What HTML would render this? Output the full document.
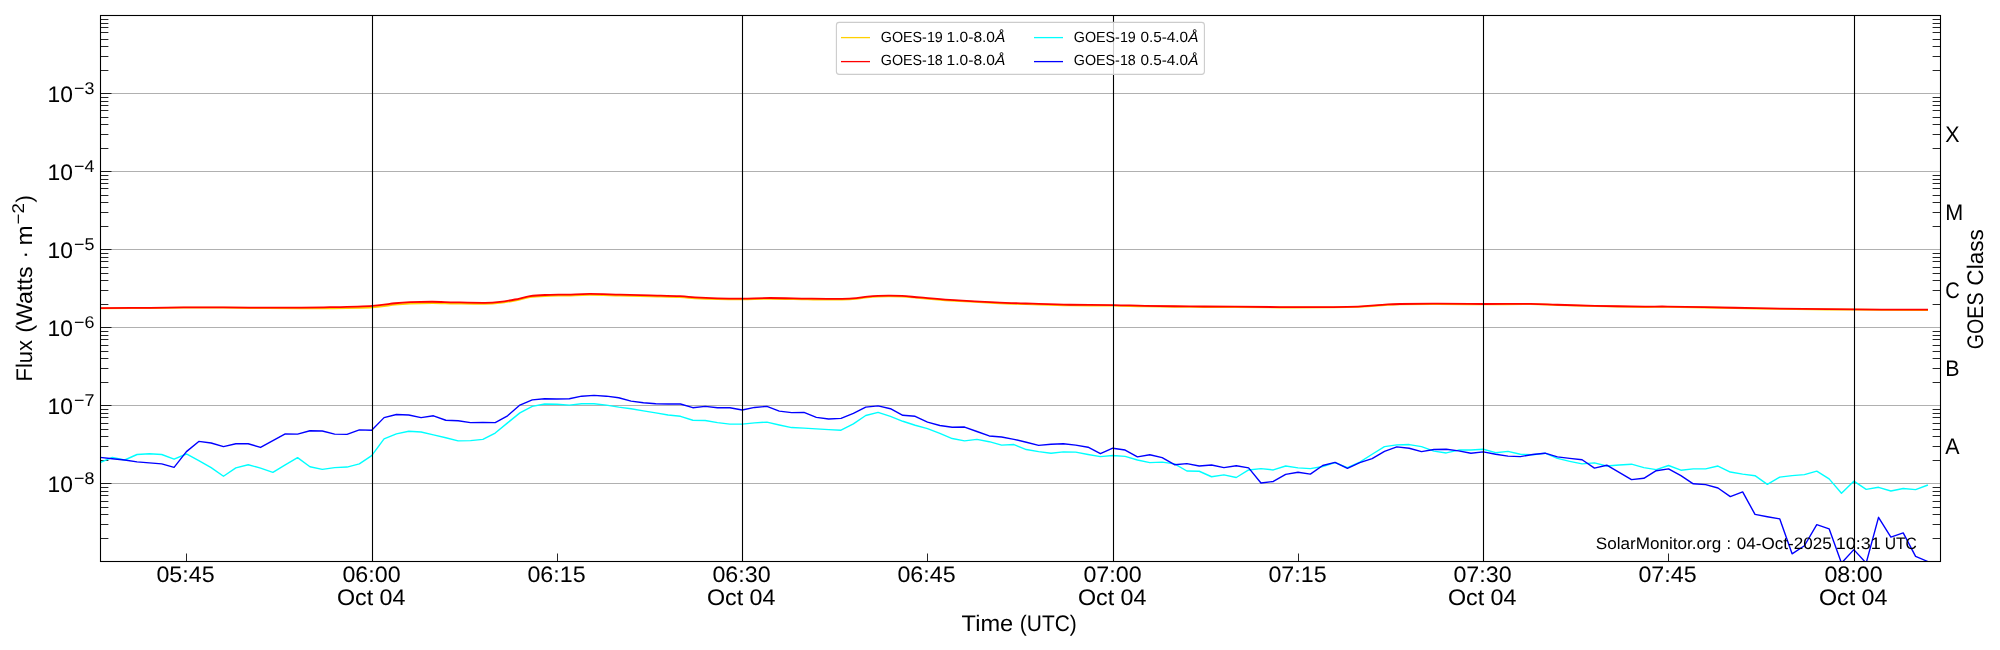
<!DOCTYPE html>
<html><head><meta charset="utf-8"><title>GOES X-ray Flux</title>
<style>html,body{margin:0;padding:0;background:#fff;}svg{display:block;will-change:transform;}text{font-family:"Liberation Sans",sans-serif;fill:#000;text-rendering:geometricPrecision;}</style>
</head><body>
<svg width="2000" height="650" viewBox="0 0 2000 650">
<rect x="0" y="0" width="2000" height="650" fill="#ffffff"/>
<defs><clipPath id="ax"><rect x="100.50" y="15.50" width="1840.00" height="546.00"/></clipPath></defs>
<g stroke="#b0b0b0" stroke-width="1.1" fill="none">
<line x1="100.50" y1="483.50" x2="1940.50" y2="483.50"/>
<line x1="100.50" y1="405.50" x2="1940.50" y2="405.50"/>
<line x1="100.50" y1="327.50" x2="1940.50" y2="327.50"/>
<line x1="100.50" y1="249.50" x2="1940.50" y2="249.50"/>
<line x1="100.50" y1="171.50" x2="1940.50" y2="171.50"/>
<line x1="100.50" y1="93.50" x2="1940.50" y2="93.50"/>
</g>
<g stroke="#000" stroke-width="0.85">
<line x1="186.50" y1="561.50" x2="186.50" y2="553.50"/>
<line x1="557.50" y1="561.50" x2="557.50" y2="553.50"/>
<line x1="927.50" y1="561.50" x2="927.50" y2="553.50"/>
<line x1="1298.50" y1="561.50" x2="1298.50" y2="553.50"/>
<line x1="1668.50" y1="561.50" x2="1668.50" y2="553.50"/>
<line x1="100.50" y1="538.50" x2="108.40" y2="538.50"/>
<line x1="1940.50" y1="538.50" x2="1932.60" y2="538.50"/>
<line x1="100.50" y1="524.50" x2="108.40" y2="524.50"/>
<line x1="1940.50" y1="524.50" x2="1932.60" y2="524.50"/>
<line x1="100.50" y1="514.50" x2="108.40" y2="514.50"/>
<line x1="1940.50" y1="514.50" x2="1932.60" y2="514.50"/>
<line x1="100.50" y1="507.50" x2="108.40" y2="507.50"/>
<line x1="1940.50" y1="507.50" x2="1932.60" y2="507.50"/>
<line x1="100.50" y1="501.50" x2="108.40" y2="501.50"/>
<line x1="1940.50" y1="501.50" x2="1932.60" y2="501.50"/>
<line x1="100.50" y1="495.50" x2="108.40" y2="495.50"/>
<line x1="1940.50" y1="495.50" x2="1932.60" y2="495.50"/>
<line x1="100.50" y1="491.50" x2="108.40" y2="491.50"/>
<line x1="1940.50" y1="491.50" x2="1932.60" y2="491.50"/>
<line x1="100.50" y1="487.50" x2="108.40" y2="487.50"/>
<line x1="1940.50" y1="487.50" x2="1932.60" y2="487.50"/>
<line x1="100.50" y1="483.50" x2="111.50" y2="483.50"/>
<line x1="100.50" y1="460.50" x2="108.40" y2="460.50"/>
<line x1="1940.50" y1="460.50" x2="1932.60" y2="460.50"/>
<line x1="100.50" y1="446.50" x2="108.40" y2="446.50"/>
<line x1="1940.50" y1="446.50" x2="1932.60" y2="446.50"/>
<line x1="100.50" y1="436.50" x2="108.40" y2="436.50"/>
<line x1="1940.50" y1="436.50" x2="1932.60" y2="436.50"/>
<line x1="100.50" y1="429.50" x2="108.40" y2="429.50"/>
<line x1="1940.50" y1="429.50" x2="1932.60" y2="429.50"/>
<line x1="100.50" y1="423.50" x2="108.40" y2="423.50"/>
<line x1="1940.50" y1="423.50" x2="1932.60" y2="423.50"/>
<line x1="100.50" y1="417.50" x2="108.40" y2="417.50"/>
<line x1="1940.50" y1="417.50" x2="1932.60" y2="417.50"/>
<line x1="100.50" y1="413.50" x2="108.40" y2="413.50"/>
<line x1="1940.50" y1="413.50" x2="1932.60" y2="413.50"/>
<line x1="100.50" y1="409.50" x2="108.40" y2="409.50"/>
<line x1="1940.50" y1="409.50" x2="1932.60" y2="409.50"/>
<line x1="100.50" y1="405.50" x2="111.50" y2="405.50"/>
<line x1="100.50" y1="382.50" x2="108.40" y2="382.50"/>
<line x1="1940.50" y1="382.50" x2="1932.60" y2="382.50"/>
<line x1="100.50" y1="368.50" x2="108.40" y2="368.50"/>
<line x1="1940.50" y1="368.50" x2="1932.60" y2="368.50"/>
<line x1="100.50" y1="358.50" x2="108.40" y2="358.50"/>
<line x1="1940.50" y1="358.50" x2="1932.60" y2="358.50"/>
<line x1="100.50" y1="351.50" x2="108.40" y2="351.50"/>
<line x1="1940.50" y1="351.50" x2="1932.60" y2="351.50"/>
<line x1="100.50" y1="345.50" x2="108.40" y2="345.50"/>
<line x1="1940.50" y1="345.50" x2="1932.60" y2="345.50"/>
<line x1="100.50" y1="339.50" x2="108.40" y2="339.50"/>
<line x1="1940.50" y1="339.50" x2="1932.60" y2="339.50"/>
<line x1="100.50" y1="335.50" x2="108.40" y2="335.50"/>
<line x1="1940.50" y1="335.50" x2="1932.60" y2="335.50"/>
<line x1="100.50" y1="331.50" x2="108.40" y2="331.50"/>
<line x1="1940.50" y1="331.50" x2="1932.60" y2="331.50"/>
<line x1="100.50" y1="327.50" x2="111.50" y2="327.50"/>
<line x1="100.50" y1="304.50" x2="108.40" y2="304.50"/>
<line x1="1940.50" y1="304.50" x2="1932.60" y2="304.50"/>
<line x1="100.50" y1="290.50" x2="108.40" y2="290.50"/>
<line x1="1940.50" y1="290.50" x2="1932.60" y2="290.50"/>
<line x1="100.50" y1="280.50" x2="108.40" y2="280.50"/>
<line x1="1940.50" y1="280.50" x2="1932.60" y2="280.50"/>
<line x1="100.50" y1="273.50" x2="108.40" y2="273.50"/>
<line x1="1940.50" y1="273.50" x2="1932.60" y2="273.50"/>
<line x1="100.50" y1="267.50" x2="108.40" y2="267.50"/>
<line x1="1940.50" y1="267.50" x2="1932.60" y2="267.50"/>
<line x1="100.50" y1="261.50" x2="108.40" y2="261.50"/>
<line x1="1940.50" y1="261.50" x2="1932.60" y2="261.50"/>
<line x1="100.50" y1="257.50" x2="108.40" y2="257.50"/>
<line x1="1940.50" y1="257.50" x2="1932.60" y2="257.50"/>
<line x1="100.50" y1="253.50" x2="108.40" y2="253.50"/>
<line x1="1940.50" y1="253.50" x2="1932.60" y2="253.50"/>
<line x1="100.50" y1="249.50" x2="111.50" y2="249.50"/>
<line x1="100.50" y1="226.50" x2="108.40" y2="226.50"/>
<line x1="1940.50" y1="226.50" x2="1932.60" y2="226.50"/>
<line x1="100.50" y1="212.50" x2="108.40" y2="212.50"/>
<line x1="1940.50" y1="212.50" x2="1932.60" y2="212.50"/>
<line x1="100.50" y1="202.50" x2="108.40" y2="202.50"/>
<line x1="1940.50" y1="202.50" x2="1932.60" y2="202.50"/>
<line x1="100.50" y1="195.50" x2="108.40" y2="195.50"/>
<line x1="1940.50" y1="195.50" x2="1932.60" y2="195.50"/>
<line x1="100.50" y1="188.50" x2="108.40" y2="188.50"/>
<line x1="1940.50" y1="188.50" x2="1932.60" y2="188.50"/>
<line x1="100.50" y1="183.50" x2="108.40" y2="183.50"/>
<line x1="1940.50" y1="183.50" x2="1932.60" y2="183.50"/>
<line x1="100.50" y1="179.50" x2="108.40" y2="179.50"/>
<line x1="1940.50" y1="179.50" x2="1932.60" y2="179.50"/>
<line x1="100.50" y1="175.50" x2="108.40" y2="175.50"/>
<line x1="1940.50" y1="175.50" x2="1932.60" y2="175.50"/>
<line x1="100.50" y1="171.50" x2="111.50" y2="171.50"/>
<line x1="100.50" y1="148.50" x2="108.40" y2="148.50"/>
<line x1="1940.50" y1="148.50" x2="1932.60" y2="148.50"/>
<line x1="100.50" y1="134.50" x2="108.40" y2="134.50"/>
<line x1="1940.50" y1="134.50" x2="1932.60" y2="134.50"/>
<line x1="100.50" y1="124.50" x2="108.40" y2="124.50"/>
<line x1="1940.50" y1="124.50" x2="1932.60" y2="124.50"/>
<line x1="100.50" y1="117.50" x2="108.40" y2="117.50"/>
<line x1="1940.50" y1="117.50" x2="1932.60" y2="117.50"/>
<line x1="100.50" y1="110.50" x2="108.40" y2="110.50"/>
<line x1="1940.50" y1="110.50" x2="1932.60" y2="110.50"/>
<line x1="100.50" y1="105.50" x2="108.40" y2="105.50"/>
<line x1="1940.50" y1="105.50" x2="1932.60" y2="105.50"/>
<line x1="100.50" y1="101.50" x2="108.40" y2="101.50"/>
<line x1="1940.50" y1="101.50" x2="1932.60" y2="101.50"/>
<line x1="100.50" y1="97.50" x2="108.40" y2="97.50"/>
<line x1="1940.50" y1="97.50" x2="1932.60" y2="97.50"/>
<line x1="100.50" y1="93.50" x2="111.50" y2="93.50"/>
<line x1="100.50" y1="70.50" x2="108.40" y2="70.50"/>
<line x1="1940.50" y1="70.50" x2="1932.60" y2="70.50"/>
<line x1="100.50" y1="56.50" x2="108.40" y2="56.50"/>
<line x1="1940.50" y1="56.50" x2="1932.60" y2="56.50"/>
<line x1="100.50" y1="46.50" x2="108.40" y2="46.50"/>
<line x1="1940.50" y1="46.50" x2="1932.60" y2="46.50"/>
<line x1="100.50" y1="39.50" x2="108.40" y2="39.50"/>
<line x1="1940.50" y1="39.50" x2="1932.60" y2="39.50"/>
<line x1="100.50" y1="32.50" x2="108.40" y2="32.50"/>
<line x1="1940.50" y1="32.50" x2="1932.60" y2="32.50"/>
<line x1="100.50" y1="27.50" x2="108.40" y2="27.50"/>
<line x1="1940.50" y1="27.50" x2="1932.60" y2="27.50"/>
<line x1="100.50" y1="23.50" x2="108.40" y2="23.50"/>
<line x1="1940.50" y1="23.50" x2="1932.60" y2="23.50"/>
<line x1="100.50" y1="19.50" x2="108.40" y2="19.50"/>
<line x1="1940.50" y1="19.50" x2="1932.60" y2="19.50"/>
</g>
<g clip-path="url(#ax)" fill="none" stroke-linejoin="round" stroke-linecap="butt">
<path d="M100.50 308.30 C108.75 308.26 133.42 308.19 150.00 308.07 C166.58 307.95 183.33 307.59 200.00 307.58 C216.67 307.57 233.33 307.88 250.00 308.00 C266.67 308.12 286.67 308.25 300.00 308.30 C313.33 308.35 317.92 308.44 330.00 308.27 C342.08 308.11 361.67 307.90 372.50 307.30 C383.33 306.69 388.75 305.28 395.00 304.65 C401.25 304.03 403.75 303.82 410.00 303.54 C416.25 303.26 425.00 303.00 432.50 302.99 C440.00 302.98 446.25 303.33 455.00 303.48 C463.75 303.62 477.50 303.93 485.00 303.84 C492.50 303.75 495.00 303.48 500.00 302.93 C505.00 302.38 510.00 301.47 515.00 300.52 C520.00 299.57 525.00 297.96 530.00 297.21 C535.00 296.46 538.75 296.28 545.00 296.00 C551.25 295.72 560.00 295.72 567.50 295.54 C575.00 295.36 581.25 294.90 590.00 294.92 C598.75 294.94 610.00 295.41 620.00 295.65 C630.00 295.90 640.00 296.14 650.00 296.38 C660.00 296.63 672.50 296.79 680.00 297.11 C687.50 297.43 688.75 297.96 695.00 298.30 C701.25 298.65 709.58 298.99 717.50 299.19 C725.42 299.38 733.75 299.52 742.50 299.46 C751.25 299.41 759.17 298.85 770.00 298.84 C780.83 298.83 796.25 299.27 807.50 299.41 C818.75 299.55 830.00 299.72 837.50 299.69 C845.00 299.65 847.50 299.61 852.50 299.22 C857.50 298.84 863.25 297.81 867.50 297.36 C871.75 296.92 874.25 296.72 878.00 296.55 C881.75 296.38 886.00 296.32 890.00 296.34 C894.00 296.36 897.00 296.39 902.00 296.68 C907.00 296.98 912.00 297.48 920.00 298.12 C928.00 298.75 937.50 299.68 950.00 300.49 C962.50 301.31 981.25 302.37 995.00 303.00 C1008.75 303.64 1020.00 303.93 1032.50 304.32 C1045.00 304.71 1056.50 305.13 1070.00 305.34 C1083.50 305.56 1101.00 305.44 1113.50 305.61 C1126.00 305.77 1132.25 306.11 1145.00 306.33 C1157.75 306.54 1175.00 306.75 1190.00 306.89 C1205.00 307.03 1217.50 307.05 1235.00 307.15 C1252.50 307.26 1274.50 307.54 1295.00 307.50 C1315.50 307.47 1343.00 307.36 1358.00 306.94 C1373.00 306.52 1378.00 305.41 1385.00 304.99 C1392.00 304.56 1391.25 304.54 1400.00 304.38 C1408.75 304.23 1423.58 304.08 1437.50 304.08 C1451.42 304.08 1468.00 304.35 1483.50 304.37 C1499.00 304.39 1518.17 304.09 1530.50 304.21 C1542.83 304.34 1546.75 304.79 1557.50 305.11 C1568.25 305.43 1580.42 305.83 1595.00 306.15 C1609.58 306.48 1632.92 306.92 1645.00 307.05 C1657.08 307.17 1652.50 306.72 1667.50 306.89 C1682.50 307.06 1716.25 307.73 1735.00 308.08 C1753.75 308.43 1760.00 308.70 1780.00 308.97 C1800.00 309.25 1830.33 309.54 1855.00 309.71 C1879.67 309.88 1915.83 309.95 1928.00 310.00" stroke="#ffd000" stroke-width="1.8"/>
<path d="M100.50 308.05 C108.75 308.01 133.42 307.93 150.00 307.80 C166.58 307.68 183.33 307.32 200.00 307.30 C216.67 307.28 233.33 307.65 250.00 307.70 C266.67 307.75 286.67 307.68 300.00 307.60 C313.33 307.52 317.92 307.50 330.00 307.20 C342.08 306.90 361.67 306.46 372.50 305.80 C383.33 305.14 388.75 303.85 395.00 303.25 C401.25 302.65 403.75 302.45 410.00 302.20 C416.25 301.95 425.00 301.73 432.50 301.75 C440.00 301.77 446.25 302.18 455.00 302.35 C463.75 302.53 477.50 302.88 485.00 302.80 C492.50 302.73 495.00 302.45 500.00 301.90 C505.00 301.35 510.00 300.45 515.00 299.50 C520.00 298.55 525.00 296.95 530.00 296.20 C535.00 295.45 538.75 295.27 545.00 295.00 C551.25 294.73 560.00 294.73 567.50 294.55 C575.00 294.38 581.25 293.93 590.00 293.95 C598.75 293.97 610.00 294.45 620.00 294.70 C630.00 294.95 640.00 295.20 650.00 295.45 C660.00 295.70 672.50 295.88 680.00 296.20 C687.50 296.52 688.75 297.05 695.00 297.40 C701.25 297.75 709.58 298.10 717.50 298.30 C725.42 298.50 733.75 298.65 742.50 298.60 C751.25 298.55 759.17 298.00 770.00 298.00 C780.83 298.00 796.25 298.45 807.50 298.60 C818.75 298.75 830.00 298.92 837.50 298.90 C845.00 298.88 847.50 298.83 852.50 298.45 C857.50 298.07 863.25 297.04 867.50 296.60 C871.75 296.16 874.25 295.97 878.00 295.80 C881.75 295.63 886.00 295.58 890.00 295.60 C894.00 295.62 897.00 295.65 902.00 295.95 C907.00 296.25 912.00 296.76 920.00 297.40 C928.00 298.04 937.50 298.98 950.00 299.80 C962.50 300.62 981.25 301.70 995.00 302.35 C1008.75 303.00 1020.00 303.30 1032.50 303.70 C1045.00 304.10 1056.50 304.52 1070.00 304.75 C1083.50 304.98 1101.00 304.88 1113.50 305.05 C1126.00 305.23 1132.25 305.58 1145.00 305.80 C1157.75 306.02 1175.00 306.25 1190.00 306.40 C1205.00 306.55 1217.50 306.58 1235.00 306.70 C1252.50 306.82 1274.50 307.12 1295.00 307.10 C1315.50 307.08 1343.00 306.97 1358.00 306.55 C1373.00 306.13 1378.00 305.03 1385.00 304.60 C1392.00 304.18 1391.25 304.15 1400.00 304.00 C1408.75 303.85 1423.58 303.70 1437.50 303.70 C1451.42 303.70 1468.00 303.98 1483.50 304.00 C1499.00 304.02 1518.17 303.73 1530.50 303.85 C1542.83 303.98 1546.75 304.43 1557.50 304.75 C1568.25 305.07 1580.42 305.48 1595.00 305.80 C1609.58 306.12 1632.92 306.57 1645.00 306.70 C1657.08 306.82 1652.50 306.38 1667.50 306.55 C1682.50 306.73 1716.25 307.40 1735.00 307.75 C1753.75 308.10 1760.00 308.38 1780.00 308.65 C1800.00 308.92 1830.33 309.22 1855.00 309.40 C1879.67 309.57 1915.83 309.65 1928.00 309.70" stroke="#ff0000" stroke-width="1.8"/>
<path d="M99.98 462.62 L112.33 457.39 L124.68 460.00 L137.03 454.51 L149.38 453.72 L161.73 454.51 L174.08 459.22 L186.43 453.99 L198.79 460.52 L211.14 467.59 L223.49 476.22 L235.84 467.85 L248.19 464.71 L260.54 468.11 L272.89 472.29 L285.24 464.97 L297.59 457.65 L309.94 466.80 L322.30 469.42 L334.65 467.59 L347.00 467.06 L359.35 463.92 L371.70 455.55 L384.05 438.82 L396.40 433.85 L408.75 431.23 L421.10 432.02 L433.45 434.89 L445.81 437.77 L458.16 440.91 L470.51 440.65 L482.86 439.34 L495.21 433.06 L507.56 422.86 L519.91 412.92 L532.26 406.38 L544.61 404.03 L556.97 404.29 L569.32 405.08 L581.67 403.77 L594.02 403.77 L606.37 405.08 L618.72 407.17 L631.07 408.74 L643.42 410.83 L655.77 412.92 L668.12 415.02 L680.48 416.32 L692.83 420.25 L705.18 420.51 L717.53 422.60 L729.88 424.17 L742.23 424.17 L754.58 422.86 L766.93 422.08 L779.28 424.95 L791.63 427.57 L803.99 428.09 L816.34 428.88 L828.69 429.66 L841.04 430.18 L853.39 423.91 L865.74 415.54 L878.09 412.40 L890.44 416.32 L902.79 421.29 L915.14 425.22 L927.50 428.62 L939.85 433.32 L952.20 438.55 L964.55 440.91 L976.90 439.34 L989.25 441.69 L1001.60 445.09 L1013.95 444.57 L1026.30 449.54 L1038.65 451.63 L1051.01 453.20 L1063.36 451.89 L1075.71 452.15 L1088.06 454.51 L1100.41 456.60 L1112.76 455.55 L1125.11 456.34 L1137.46 460.00 L1149.81 462.62 L1162.16 462.09 L1174.52 463.92 L1186.87 470.99 L1199.22 471.25 L1211.57 476.74 L1223.92 474.91 L1236.27 477.52 L1248.62 469.94 L1260.97 468.63 L1273.32 469.94 L1285.67 466.02 L1298.03 467.85 L1310.38 468.63 L1322.73 466.54 L1335.08 462.62 L1347.43 467.59 L1359.78 462.09 L1372.13 454.25 L1384.48 446.66 L1396.83 444.83 L1409.18 444.57 L1421.54 446.66 L1433.89 451.11 L1446.24 452.94 L1458.59 450.06 L1470.94 450.06 L1483.29 449.28 L1495.64 452.68 L1507.99 451.37 L1520.34 454.25 L1532.69 454.77 L1545.05 453.20 L1557.40 458.43 L1569.75 461.31 L1582.10 463.92 L1594.45 462.88 L1606.80 466.02 L1619.15 464.97 L1631.50 464.19 L1643.85 467.59 L1656.20 469.68 L1668.56 465.49 L1680.91 470.20 L1693.26 468.89 L1705.61 468.89 L1717.96 466.02 L1730.31 472.03 L1742.66 474.12 L1755.01 475.69 L1767.36 484.32 L1779.71 477.12 L1792.07 475.58 L1804.42 474.62 L1816.77 471.15 L1829.12 478.85 L1841.47 493.27 L1853.82 481.15 L1866.17 489.42 L1878.52 487.31 L1890.87 490.96 L1903.22 488.46 L1915.58 489.62 L1927.93 485.00" stroke="#00ffff" stroke-width="1.4"/>
<path d="M99.98 457.39 L112.33 458.69 L124.68 460.00 L137.03 461.83 L149.38 462.88 L161.73 463.92 L174.08 467.32 L186.43 451.63 L198.79 441.43 L211.14 443.00 L223.49 446.66 L235.84 443.79 L248.19 443.79 L260.54 447.45 L272.89 440.65 L285.24 433.85 L297.59 434.11 L309.94 430.71 L322.30 430.97 L334.65 434.11 L347.00 434.37 L359.35 429.92 L371.70 430.18 L384.05 417.63 L396.40 414.49 L408.75 415.02 L421.10 417.63 L433.45 415.80 L445.81 420.25 L458.16 420.77 L470.51 422.60 L482.86 422.34 L495.21 422.60 L507.56 415.80 L519.91 405.08 L532.26 399.85 L544.61 398.80 L556.97 399.06 L569.32 398.80 L581.67 396.18 L594.02 395.40 L606.37 396.18 L618.72 397.75 L631.07 401.15 L643.42 402.72 L655.77 403.77 L668.12 404.03 L680.48 404.03 L692.83 407.69 L705.18 406.38 L717.53 407.69 L729.88 407.69 L742.23 410.05 L754.58 407.43 L766.93 406.38 L779.28 411.09 L791.63 412.66 L803.99 412.40 L816.34 417.37 L828.69 418.94 L841.04 418.42 L853.39 413.45 L865.74 407.17 L878.09 405.86 L890.44 408.74 L902.79 415.28 L915.14 416.32 L927.50 422.08 L939.85 425.48 L952.20 427.31 L964.55 427.05 L976.90 431.49 L989.25 435.94 L1001.60 436.98 L1013.95 439.34 L1026.30 442.22 L1038.65 445.35 L1051.01 444.31 L1063.36 443.79 L1075.71 445.09 L1088.06 447.19 L1100.41 453.72 L1112.76 448.23 L1125.11 450.06 L1137.46 456.86 L1149.81 454.77 L1162.16 457.65 L1174.52 464.71 L1186.87 463.66 L1199.22 466.02 L1211.57 464.97 L1223.92 467.59 L1236.27 465.75 L1248.62 467.85 L1260.97 483.02 L1273.32 481.45 L1285.67 474.39 L1298.03 472.29 L1310.38 474.12 L1322.73 465.49 L1335.08 462.35 L1347.43 468.37 L1359.78 462.62 L1372.13 458.69 L1384.48 451.37 L1396.83 446.92 L1409.18 448.23 L1421.54 451.63 L1433.89 449.54 L1446.24 449.28 L1458.59 450.85 L1470.94 453.20 L1483.29 451.89 L1495.64 454.25 L1507.99 456.08 L1520.34 456.60 L1532.69 454.51 L1545.05 453.20 L1557.40 456.86 L1569.75 458.43 L1582.10 459.74 L1594.45 468.11 L1606.80 465.23 L1619.15 472.29 L1631.50 479.62 L1643.85 478.31 L1656.20 470.72 L1668.56 468.89 L1680.91 475.69 L1693.26 483.80 L1705.61 484.59 L1717.96 487.99 L1730.31 496.62 L1742.66 491.91 L1755.01 514.40 L1767.36 516.75 L1779.71 518.85 L1792.07 553.85 L1804.42 545.77 L1816.77 524.62 L1829.12 528.85 L1841.47 563.08 L1853.82 549.62 L1866.17 563.08 L1878.52 517.31 L1890.87 537.12 L1903.22 532.88 L1915.58 556.35 L1927.93 561.54" stroke="#0000ff" stroke-width="1.4"/>
</g>
<g stroke="#000" stroke-width="1.1">
<line x1="372.50" y1="15.50" x2="372.50" y2="561.50"/>
<line x1="742.50" y1="15.50" x2="742.50" y2="561.50"/>
<line x1="1113.50" y1="15.50" x2="1113.50" y2="561.50"/>
<line x1="1483.50" y1="15.50" x2="1483.50" y2="561.50"/>
<line x1="1854.50" y1="15.50" x2="1854.50" y2="561.50"/>
</g>
<rect x="100.50" y="15.50" width="1840.00" height="546.00" fill="none" stroke="#000" stroke-width="1.1"/>
<text x="1595.8" y="548.9" font-size="16.6" textLength="125.5" lengthAdjust="spacingAndGlyphs">SolarMonitor.org</text>
<text x="1726.4" y="548.9" font-size="16.6">:</text>
<text x="1736.8" y="548.9" font-size="16.6" textLength="95.0" lengthAdjust="spacingAndGlyphs">04-Oct-2025</text>
<text x="1835.7" y="548.9" font-size="16.6" textLength="45.0" lengthAdjust="spacingAndGlyphs">10:31</text>
<text x="1884.7" y="548.9" font-size="16.6" textLength="32.2" lengthAdjust="spacingAndGlyphs">UTC</text>
<rect x="836.4" y="22.4" width="368" height="52" rx="2.8" ry="2.8" fill="#ffffff" fill-opacity="0.8" stroke="#cccccc" stroke-width="1.1"/>
<g stroke-width="1.3" fill="none">
<line x1="841" y1="37.6" x2="870" y2="37.6" stroke="#ffd000"/>
<line x1="841" y1="61.6" x2="870" y2="61.6" stroke="#ff0000"/>
<line x1="1034" y1="37.6" x2="1063" y2="37.6" stroke="#00ffff"/>
<line x1="1034" y1="61.6" x2="1063" y2="61.6" stroke="#0000ff"/>
</g>
<text x="880.8" y="41.9" font-size="14.7" textLength="62.0" lengthAdjust="spacingAndGlyphs">GOES-19</text>
<text x="946.6" y="41.9" font-size="14.7" textLength="58.8" lengthAdjust="spacingAndGlyphs">1.0-8.0<tspan font-style="italic">&#197;</tspan></text>
<text x="880.8" y="65.1" font-size="14.7" textLength="62.0" lengthAdjust="spacingAndGlyphs">GOES-18</text>
<text x="946.6" y="65.1" font-size="14.7" textLength="58.8" lengthAdjust="spacingAndGlyphs">1.0-8.0<tspan font-style="italic">&#197;</tspan></text>
<text x="1073.8" y="41.9" font-size="14.7" textLength="62.0" lengthAdjust="spacingAndGlyphs">GOES-19</text>
<text x="1140.4" y="41.9" font-size="14.7" textLength="58.0" lengthAdjust="spacingAndGlyphs">0.5-4.0<tspan font-style="italic">&#197;</tspan></text>
<text x="1073.8" y="65.1" font-size="14.7" textLength="62.0" lengthAdjust="spacingAndGlyphs">GOES-18</text>
<text x="1140.4" y="65.1" font-size="14.7" textLength="58.0" lengthAdjust="spacingAndGlyphs">0.5-4.0<tspan font-style="italic">&#197;</tspan></text>
<text x="185.50" y="581.8" font-size="22.4" text-anchor="middle" textLength="58.2" lengthAdjust="spacingAndGlyphs">05:45</text>
<text x="371.50" y="581.8" font-size="22.4" text-anchor="middle" textLength="58.2" lengthAdjust="spacingAndGlyphs">06:00</text>
<text x="371.20" y="604.6" font-size="22.6" text-anchor="middle" textLength="68.6" lengthAdjust="spacingAndGlyphs">Oct 04</text>
<text x="556.50" y="581.8" font-size="22.4" text-anchor="middle" textLength="58.2" lengthAdjust="spacingAndGlyphs">06:15</text>
<text x="741.50" y="581.8" font-size="22.4" text-anchor="middle" textLength="58.2" lengthAdjust="spacingAndGlyphs">06:30</text>
<text x="741.20" y="604.6" font-size="22.6" text-anchor="middle" textLength="68.6" lengthAdjust="spacingAndGlyphs">Oct 04</text>
<text x="926.50" y="581.8" font-size="22.4" text-anchor="middle" textLength="58.2" lengthAdjust="spacingAndGlyphs">06:45</text>
<text x="1112.50" y="581.8" font-size="22.4" text-anchor="middle" textLength="58.2" lengthAdjust="spacingAndGlyphs">07:00</text>
<text x="1112.20" y="604.6" font-size="22.6" text-anchor="middle" textLength="68.6" lengthAdjust="spacingAndGlyphs">Oct 04</text>
<text x="1297.50" y="581.8" font-size="22.4" text-anchor="middle" textLength="58.2" lengthAdjust="spacingAndGlyphs">07:15</text>
<text x="1482.50" y="581.8" font-size="22.4" text-anchor="middle" textLength="58.2" lengthAdjust="spacingAndGlyphs">07:30</text>
<text x="1482.20" y="604.6" font-size="22.6" text-anchor="middle" textLength="68.6" lengthAdjust="spacingAndGlyphs">Oct 04</text>
<text x="1667.50" y="581.8" font-size="22.4" text-anchor="middle" textLength="58.2" lengthAdjust="spacingAndGlyphs">07:45</text>
<text x="1853.50" y="581.8" font-size="22.4" text-anchor="middle" textLength="58.2" lengthAdjust="spacingAndGlyphs">08:00</text>
<text x="1853.20" y="604.6" font-size="22.6" text-anchor="middle" textLength="68.6" lengthAdjust="spacingAndGlyphs">Oct 04</text>
<text x="47.6" y="492.18" font-size="22.4" textLength="25.4" lengthAdjust="spacingAndGlyphs">10</text>
<text x="74" y="484.38" font-size="17" textLength="20.4" lengthAdjust="spacingAndGlyphs">&#8722;8</text>
<text x="47.6" y="414.15" font-size="22.4" textLength="25.4" lengthAdjust="spacingAndGlyphs">10</text>
<text x="74" y="406.35" font-size="17" textLength="20.4" lengthAdjust="spacingAndGlyphs">&#8722;7</text>
<text x="47.6" y="336.12" font-size="22.4" textLength="25.4" lengthAdjust="spacingAndGlyphs">10</text>
<text x="74" y="328.32" font-size="17" textLength="20.4" lengthAdjust="spacingAndGlyphs">&#8722;6</text>
<text x="47.6" y="258.09" font-size="22.4" textLength="25.4" lengthAdjust="spacingAndGlyphs">10</text>
<text x="74" y="250.29" font-size="17" textLength="20.4" lengthAdjust="spacingAndGlyphs">&#8722;5</text>
<text x="47.6" y="180.06" font-size="22.4" textLength="25.4" lengthAdjust="spacingAndGlyphs">10</text>
<text x="74" y="172.26" font-size="17" textLength="20.4" lengthAdjust="spacingAndGlyphs">&#8722;4</text>
<text x="47.6" y="102.03" font-size="22.4" textLength="25.4" lengthAdjust="spacingAndGlyphs">10</text>
<text x="74" y="94.23" font-size="17" textLength="20.4" lengthAdjust="spacingAndGlyphs">&#8722;3</text>
<text x="961.6" y="630.8" font-size="22.6" textLength="51.6" lengthAdjust="spacingAndGlyphs">Time</text>
<text x="1019.8" y="630.8" font-size="22.6" textLength="57.0" lengthAdjust="spacingAndGlyphs">(UTC)</text>
<g transform="translate(31.7,382) rotate(-90)">
<text x="0.5" y="0.0" font-size="22.6" textLength="41.5" lengthAdjust="spacingAndGlyphs">Flux</text>
<text x="49.2" y="0.0" font-size="22.6" textLength="66.5" lengthAdjust="spacingAndGlyphs">(Watts</text>
<text x="123.4" y="0.0" font-size="22.6">&#183;</text>
<text x="136.5" y="0.0" font-size="22.6" textLength="20.2" lengthAdjust="spacingAndGlyphs">m</text>
<text x="157.5" y="-7.7" font-size="17" textLength="21.5" lengthAdjust="spacingAndGlyphs">&#8722;2</text>
<text x="179.5" y="0.0" font-size="22.6">)</text>
</g>
<g transform="translate(1983.1,349.0) rotate(-90)"><text x="-0.3" y="0" font-size="22.6" textLength="56.9" lengthAdjust="spacingAndGlyphs">GOES</text><text x="63.3" y="0" font-size="22.6" textLength="56.6" lengthAdjust="spacingAndGlyphs">Class</text></g>
<text x="1945.3" y="142.00" font-size="22.6" textLength="14.27" lengthAdjust="spacingAndGlyphs">X</text>
<text x="1945.3" y="220.03" font-size="22.6" textLength="17.98" lengthAdjust="spacingAndGlyphs">M</text>
<text x="1945.3" y="298.06" font-size="22.6" textLength="14.54" lengthAdjust="spacingAndGlyphs">C</text>
<text x="1945.3" y="376.09" font-size="22.6" textLength="14.29" lengthAdjust="spacingAndGlyphs">B</text>
<text x="1945.3" y="454.12" font-size="22.6" textLength="14.25" lengthAdjust="spacingAndGlyphs">A</text>
</svg>
</body></html>
